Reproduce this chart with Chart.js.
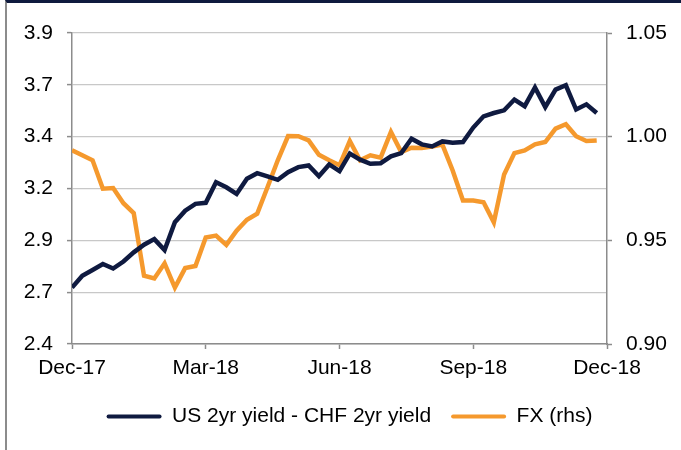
<!DOCTYPE html>
<html>
<head>
<meta charset="utf-8">
<script src="https://cdn.jsdelivr.net/npm/chart.js@4"></script>
<style>
  html, body { margin: 0; padding: 0; background: #fff; }
  #frame {
    position: absolute; left: 5px; top: 0; width: 676px; height: 450px;
    box-sizing: border-box;
    border-top: 3px solid #0f1a3e;
    border-left: 2px solid #8c8c8c;
  }
  #wrap { position: absolute; left: 0; top: 0; width: 681px; height: 450px; }
</style>
</head>
<body>
<div id="frame"></div>
<div id="wrap"><canvas id="chart" width="681" height="450"></canvas></div>
<script>
// weekly observations, Dec-17 .. Dec-18
const weeks = Array.from({ length: 52 }, (_, i) => i);

const spreadYield = [
  2.672, 2.729, 2.757, 2.786, 2.764, 2.798, 2.842, 2.879, 2.906, 2.853,
  2.987, 3.043, 3.076, 3.081, 3.180, 3.156, 3.124, 3.197, 3.224, 3.208,
  3.192, 3.229, 3.253, 3.261, 3.209, 3.266, 3.234, 3.318, 3.289, 3.269,
  3.272, 3.305, 3.321, 3.390, 3.363, 3.353, 3.377, 3.371, 3.374, 3.444,
  3.498, 3.514, 3.527, 3.579, 3.547, 3.637, 3.543, 3.627, 3.648, 3.531,
  3.556, 3.514
];

const fxRate = [
  0.9934, 0.9910, 0.9886, 0.9749, 0.9752, 0.9679, 0.9631, 0.9329, 0.9316, 0.9389,
  0.9272, 0.9366, 0.9376, 0.9514, 0.9523, 0.9478, 0.9547, 0.9599, 0.9628, 0.9756,
  0.9886, 1.0003, 1.0002, 0.9982, 0.9913, 0.9886, 0.9862, 0.9979, 0.9886, 0.9910,
  0.9899, 1.0023, 0.9926, 0.9947, 0.9945, 0.9953, 0.9962, 0.9837, 0.9692, 0.9692,
  0.9684, 0.9587, 0.9818, 0.9921, 0.9934, 0.9963, 0.9974, 1.0039, 1.0060, 1.0002,
  0.9979, 0.9982
];

const xTickLabels     = ["Dec-17", "Mar-18", "Jun-18", "Sep-18", "Dec-18"];
const leftTickLabels  = ["2.4", "2.7", "2.9", "3.2", "3.4", "3.7", "3.9"];
const rightTickLabels = ["0.90", "0.95", "1.00", "1.05"];

const NAVY   = "#0f1a40";
const ORANGE = "#f5992d";
const AXIS   = "#8c8c8c";
const FONT   = { family: "'Liberation Sans', Arial, sans-serif", size: 21 };

const toPoints = (vals) => vals.map((v, i) => ({ x: weeks[i], y: v }));

new Chart(document.getElementById("chart"), {
  type: "line",
  data: {
    datasets: [
      {
        label: "US 2yr yield - CHF 2yr yield",
        data: toPoints(spreadYield),
        borderColor: NAVY,
        backgroundColor: NAVY,
        borderWidth: 4.5,
        pointRadius: 0,
        tension: 0,
        yAxisID: "y",
      },
      {
        label: "FX (rhs)",
        data: toPoints(fxRate),
        borderColor: ORANGE,
        backgroundColor: ORANGE,
        borderWidth: 4.5,
        pointRadius: 0,
        tension: 0,
        yAxisID: "y1",
      },
    ],
  },
  options: {
    responsive: false,
    animation: false,
    layout: { padding: { left: 18, right: 0, top: 33, bottom: 13 } },
    plugins: {
      tooltip: { enabled: false },
      legend: {
        position: "bottom",
        labels: {
          color: "#000",
          font: FONT,
          boxWidth: 55,
          boxHeight: 4,
          padding: 20,
          useBorderRadius: true,
          borderRadius: 2,
          generateLabels: (chart) =>
            chart.data.datasets.map((ds, i) => ({
              text: ds.label,
              fillStyle: ds.borderColor,
              strokeStyle: ds.borderColor,
              lineWidth: 0,
              datasetIndex: i,
              borderRadius: 2,
            })),
        },
      },
    },
    scales: {
      x: {
        type: "linear",
        min: 0,
        max: 52,
        afterFit: (s) => { s.height = 42; },
        ticks: {
          stepSize: 13,
          autoSkip: false,
          maxRotation: 0,
          color: "#000",
          font: FONT,
          padding: 7,
          callback: (v, i) => xTickLabels[i],
        },
        grid: { drawOnChartArea: false, color: AXIS, tickLength: 5, tickWidth: 1.5 },
        border: { color: AXIS, width: 1.5 },
      },
      y: {
        position: "left",
        min: 2.4,
        max: 3.9,
        afterFit: (s) => { s.width = 54; },
        ticks: {
          stepSize: 0.25,
          color: "#000",
          font: FONT,
          padding: 14,
          callback: (v, i) => leftTickLabels[i],
        },
        grid: {
          color: "#c8c8c8",
          lineWidth: 1.2,
          borderDash: [2, 2],
          tickColor: AXIS,
          tickWidth: 1.5,
          tickLength: 5,
          tickBorderDash: [],
        },
        border: { color: AXIS, width: 1.5, dash: [] },
      },
      y1: {
        position: "right",
        min: 0.9,
        max: 1.05,
        afterFit: (s) => { s.width = 74; },
        ticks: {
          stepSize: 0.05,
          color: "#000",
          font: FONT,
          padding: 14,
          callback: (v, i) => rightTickLabels[i],
        },
        grid: { drawOnChartArea: false, color: AXIS, tickLength: 5, tickWidth: 1.5 },
        border: { color: AXIS, width: 1.5 },
      },
    },
  },
});
</script>
</body>
</html>
